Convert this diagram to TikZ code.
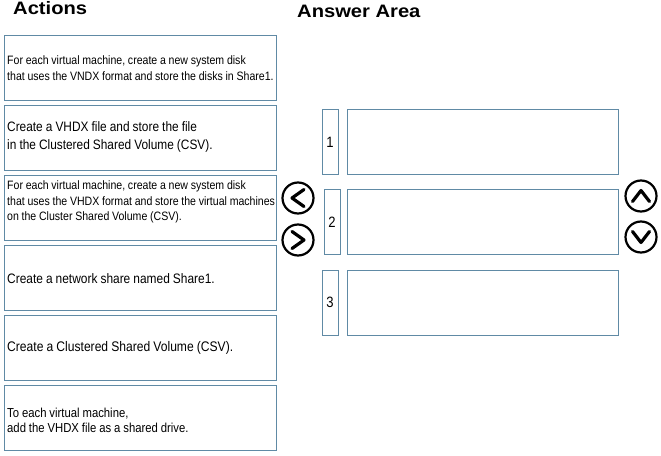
\documentclass[tikz,border=0pt]{standalone}
\usepackage{fontspec}
\setmainfont{Liberation Sans}
\newfontfamily\narrowfont{Liberation Sans}[FakeStretch=0.87, WordSpace=0.93]
\newfontfamily\headfont{Liberation Sans}[FakeStretch=1.12]
\definecolor{bord}{RGB}{96,138,165}
\begin{document}
\begin{tikzpicture}[x=1pt,y=-1pt,
  actbox/.style={draw=bord, line width=1.2pt, anchor=north west, inner sep=0pt,
    minimum width=272pt, minimum height=65pt},
  acttext/.style={anchor=west, inner sep=0pt, align=left, xshift=3pt},
  small/.style={font=\narrowfont\fontsize{12.15}{15.5}\selectfont},
  mid/.style={font=\narrowfont\fontsize{13}{15}\selectfont},
  midb/.style={font=\narrowfont\fontsize{13.65}{17.5}\selectfont},
  big/.style={font=\narrowfont\fontsize{13.9}{17}\selectfont},
  bigb/.style={font=\narrowfont\fontsize{13.7}{17}\selectfont},
  numbox/.style={draw=bord, line width=1.2pt, anchor=north west, inner sep=0pt,
    minimum width=16pt, minimum height=65pt, font=\narrowfont\fontsize{15}{15}\selectfont},
  ansbox/.style={draw=bord, line width=1.2pt, anchor=north west, inner sep=0pt,
    minimum width=271pt, minimum height=65pt},
  btn/.style={draw=black, circle, line width=2.2pt, minimum size=31pt, inner sep=0pt},
  chev/.style={draw=black, line width=3.2pt, line cap=round, line join=round},
  head/.style={font=\headfont\bfseries\fontsize{18}{18}\selectfont, anchor=base west, inner sep=0pt}
]
\useasboundingbox (0,0) rectangle (661,455);
\fill[white] (0,0) rectangle (661,455);
\node[head] (hact) at (13,14) {Actions};
\node[head] (hans) at (297,17) {Answer Area};

\node[actbox] (a1) at (4,35) {};
\node[actbox] (a2) at (4,105) {};
\node[actbox] (a3) at (4,175) {};
\node[actbox] (a4) at (4,245) {};
\node[actbox] (a5) at (4,315) {};
\node[actbox] (a6) at (4,385) {};
\node[acttext, small] (t1) at (a1.west) {For each virtual machine, create a new system disk\\that uses the VNDX format and store the disks in Share1.};
\node[acttext, midb] (t2) at ([yshift=1pt]a2.west) {Create a VHDX file and store the file\\in the Clustered Shared Volume (CSV).};
\node[acttext, small] (t3) at ([yshift=6pt]a3.west) {For each virtual machine, create a new system disk\\that uses the VHDX format and store the virtual machines\\on the Cluster Shared Volume (CSV).};
\node[acttext, bigb] (t4) at ([yshift=-0.5pt]a4.west) {Create a network share named Share1.};
\node[acttext, big] (t5) at (a5.west) {Create a Clustered Shared Volume (CSV).};
\node[acttext, mid] (t6) at ([yshift=-2.5pt]a6.west) {To each virtual machine,\\add the VHDX file as a shared drive.};

\node[numbox] (n1) at (321.5,109) {1};
\node[numbox] (n2) at (323.5,189) {2};
\node[numbox] (n3) at (321.5,269.5) {3};
\node[ansbox] (b1) at (347,109) {};
\node[ansbox] (b2) at (347,189) {};
\node[ansbox] (b3) at (347,269.5) {};

\node[btn] (cl) at (298,198) {};
\node[btn] (cr) at (298,240) {};
\node[btn] (cu) at (641,196) {};
\node[btn] (cd) at (641,237) {};
\draw[chev] ([shift={(6,-8.5)}]cl.center) -- ([shift={(-6,0)}]cl.center) -- ([shift={(6,8.5)}]cl.center);
\draw[chev] ([shift={(-6,-8.5)}]cr.center) -- ([shift={(6,0)}]cr.center) -- ([shift={(-6,8.5)}]cr.center);
\draw[chev] ([shift={(-8.5,5.5)}]cu.center) -- ([shift={(0,-5.5)}]cu.center) -- ([shift={(8.5,5.5)}]cu.center);
\draw[chev] ([shift={(-8.5,-5.5)}]cd.center) -- ([shift={(0,5.5)}]cd.center) -- ([shift={(8.5,-5.5)}]cd.center);
\end{tikzpicture}
\end{document}
